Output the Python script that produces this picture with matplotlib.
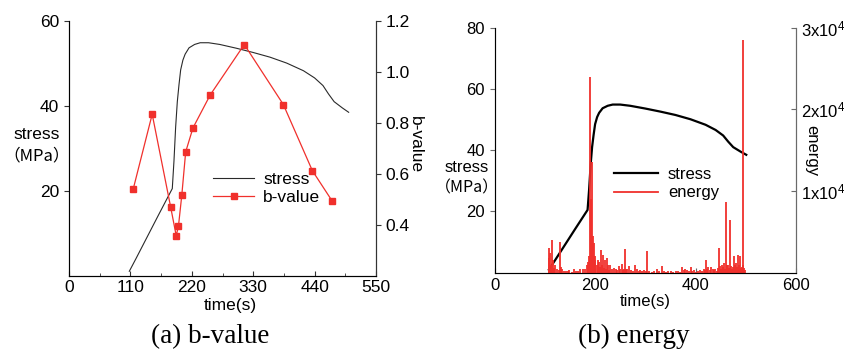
import matplotlib
matplotlib.use('Agg')
import matplotlib.pyplot as plt
from matplotlib.lines import Line2D

plt.rcParams['font.family'] = ['Liberation Sans', 'Noto Sans CJK SC', 'DejaVu Sans']
plt.rcParams['mathtext.default'] = 'regular'

# stress curve (shared by both panels)
stress_t = [108, 120, 140, 160, 185, 188, 191, 194, 197, 200, 204, 208, 215, 225, 235,
            250, 270, 300, 330, 360, 390, 420, 440, 455, 465, 475, 490, 501]
stress_v = [1.0, 4.0, 9.1, 14.2, 20.5, 27.0, 35.0, 41.0, 45.0, 48.5, 50.8, 52.2, 53.7, 54.5, 54.9,
            54.9, 54.5, 53.6, 52.6, 51.5, 50.1, 48.3, 46.6, 44.8, 42.8, 41.0, 39.5, 38.5]

# b-value points
b_t = [115, 149, 182, 192, 196, 202, 209, 222, 253, 314, 384, 436, 472]
b_v = [0.54, 0.834, 0.47, 0.357, 0.393, 0.515, 0.686, 0.78, 0.91, 1.108, 0.872, 0.612, 0.491]

# energy events
e_t = [108, 109, 111, 113, 115, 117, 118, 121, 125, 128, 131, 133, 135, 139, 142, 146, 149,
       153, 157, 161, 165, 170, 175, 180, 183, 185, 188, 190, 192, 194, 195, 197, 199, 200,
       203, 206, 208, 210, 212, 214, 216, 218, 220, 222, 224, 226, 228, 230, 234, 238, 242,
       244, 248, 250, 253, 256, 258, 260, 262, 264, 267, 271, 275, 279, 283, 287, 290, 293,
       297, 301, 304, 308, 313, 318, 324, 328, 333, 338, 342, 346, 351, 356, 361, 366, 370,
       374, 377, 379, 383, 386, 390, 392, 396, 400, 404, 408, 412, 416, 418, 421, 423, 425,
       428, 431, 434, 437, 439, 442, 445, 447, 449, 451, 453, 455, 457, 459, 461, 463, 465,
       467, 469, 471, 473, 474, 476, 478, 480, 482, 484, 486, 487, 489, 490, 492, 494, 495,
       497, 499]
e_v = [3000, 1800, 2400, 900, 4000, 1500, 600, 900, 400, 300, 3800, 700, 500, 150, 200, 250, 300,
       120, 500, 200, 150, 400, 500, 400, 900, 1300, 2000, 24000, 9000, 13500, 4500, 3600, 2000, 1500,
       900, 1600, 1300, 700, 2800, 900, 2200, 600, 1500, 500, 1750, 900, 300, 900, 400, 600, 500,
       300, 850, 400, 1100, 300, 400, 2900, 500, 400, 800, 300, 150, 900, 400, 200, 300, 150,
       300, 200, 2700, 150, 100, 150, 500, 200, 800, 150, 100, 200, 150, 100, 200, 150, 100,
       700, 300, 400, 300, 250, 700, 200, 300, 100, 250, 300, 200, 400, 300, 1600, 500, 700,
       300, 700, 500, 300, 400, 250, 600, 3000, 800, 500, 1000, 700, 1200, 400, 8600, 900, 1000,
       600, 6400, 800, 500, 700, 2000, 900, 1200, 700, 2200, 500, 900, 2000, 600, 700, 900, 28500,
       600, 300]

red = '#f0302c'
spine_a = '#333333'
spine_b = '#6a6a6a'
fs = 12.5
cjk = ['Noto Sans CJK SC', 'DejaVu Sans']
fig = plt.figure(figsize=(8.44, 3.52), dpi=100)

# ---------- (a) b-value ----------
ax1 = fig.add_axes([0.0818, 0.2173, 0.3637, 0.7227])
ax1.plot(stress_t, stress_v, color='#2a2a2a', lw=0.8)
ax1.set_xlim(0, 550)
ax1.set_ylim(0, 60)
ax1.set_xticks([0, 110, 220, 330, 440, 550])
ax1.set_xticks([55, 165, 275, 385, 495], minor=True)
ax1.set_yticks([20, 40, 60])
ax1.tick_params(axis='x', which='both', direction='in', labelsize=fs, color=spine_a)
ax1.tick_params(axis='y', direction='out', labelsize=fs, color=spine_a)
ax1.spines['top'].set_visible(False)
for s in ['left', 'bottom', 'right']:
    ax1.spines[s].set_color(spine_a)
ax1.set_xlabel('time(s)', fontsize=fs)
ax1.xaxis.set_label_coords(0.524, -0.09)
ax1.text(-0.104, 0.555, 'stress', transform=ax1.transAxes, fontsize=fs, ha='center', va='center')
ax1.text(-0.104, 0.47, '（MPa）', transform=ax1.transAxes, fontsize=fs - 0.5, family=cjk,
         ha='center', va='center')

ax1b = ax1.twinx()
ax1b.plot(b_t, b_v, color=red, lw=0.9, marker='s', ms=4.5, mec=red, mfc=red)
ax1b.set_ylim(0.2, 1.2)
ax1b.set_yticks([0.4, 0.6, 0.8, 1.0, 1.2])
ax1b.tick_params(axis='y', direction='out', labelsize=fs, color=spine_a)
ax1b.spines['top'].set_visible(False)
ax1b.spines['right'].set_color(spine_a)
ax1b.set_ylabel('b-value', fontsize=fs, rotation=270, va='center')
ax1b.yaxis.set_label_coords(1.127, 0.513)

h1 = [Line2D([], [], color='#2a2a2a', lw=0.8),
      Line2D([], [], color=red, lw=0.9, marker='s', ms=4.5)]
ax1b.legend(h1, ['stress', 'b-value'], loc='upper left', bbox_to_anchor=(0.44, 0.44),
            frameon=False, fontsize=fs, handlelength=2.4, handletextpad=0.5,
            borderpad=0, labelspacing=0.15)

fig.text(0.249, 0.025, '(a) b-value', family='Liberation Serif', fontsize=19.5, ha='center')

# ---------- (b) energy ----------
ax2 = fig.add_axes([0.5861, 0.2253, 0.357, 0.696])
ax2.plot(stress_t, stress_v, color='black', lw=1.6)
ax2.set_xlim(0, 600)
ax2.set_ylim(0, 80)
ax2.set_xticks([0, 200, 400, 600])
ax2.set_yticks([20, 40, 60, 80])
ax2.tick_params(axis='x', direction='in', labelsize=fs - 0.5, color=spine_b)
ax2.tick_params(axis='y', direction='out', labelsize=fs - 0.5, color=spine_b)
ax2.spines['top'].set_visible(False)
for s in ['left', 'bottom', 'right']:
    ax2.spines[s].set_color(spine_b)
ax2.set_xlabel('time(s)', fontsize=fs - 0.5)
ax2.xaxis.set_label_coords(0.499, -0.085)
ax2.text(-0.092, 0.43, 'stress', transform=ax2.transAxes, fontsize=fs - 0.5, ha='center', va='center')
ax2.text(-0.092, 0.345, '（MPa）', transform=ax2.transAxes, fontsize=fs - 1, family=cjk,
         ha='center', va='center')

ax2b = ax2.twinx()
ax2b.vlines(e_t, 0, e_v, color=red, lw=1.3)
ax2b.set_ylim(0, 30000)
ax2b.set_yticks([10000, 20000, 30000])
ax2b.set_yticklabels([r'1x10$^4$', r'2x10$^4$', r'3x10$^4$'])
ax2b.tick_params(axis='y', direction='in', labelsize=fs - 0.5, color=spine_b)
ax2b.spines['top'].set_visible(False)
ax2b.spines['right'].set_color(spine_b)
ax2b.set_ylabel('energy', fontsize=fs - 0.5, rotation=270, va='center')
ax2b.yaxis.set_label_coords(1.053, 0.5)

h2 = [Line2D([], [], color='black', lw=1.6), Line2D([], [], color=red, lw=1.3)]
ax2b.legend(h2, ['stress', 'energy'], loc='upper left', bbox_to_anchor=(0.37, 0.465),
            frameon=False, fontsize=fs - 0.5, handlelength=2.6, handletextpad=0.6,
            borderpad=0, labelspacing=0.2)

fig.text(0.751, 0.025, '(b) energy', family='Liberation Serif', fontsize=19.5, ha='center')

fig.savefig('out.png', dpi=100)
